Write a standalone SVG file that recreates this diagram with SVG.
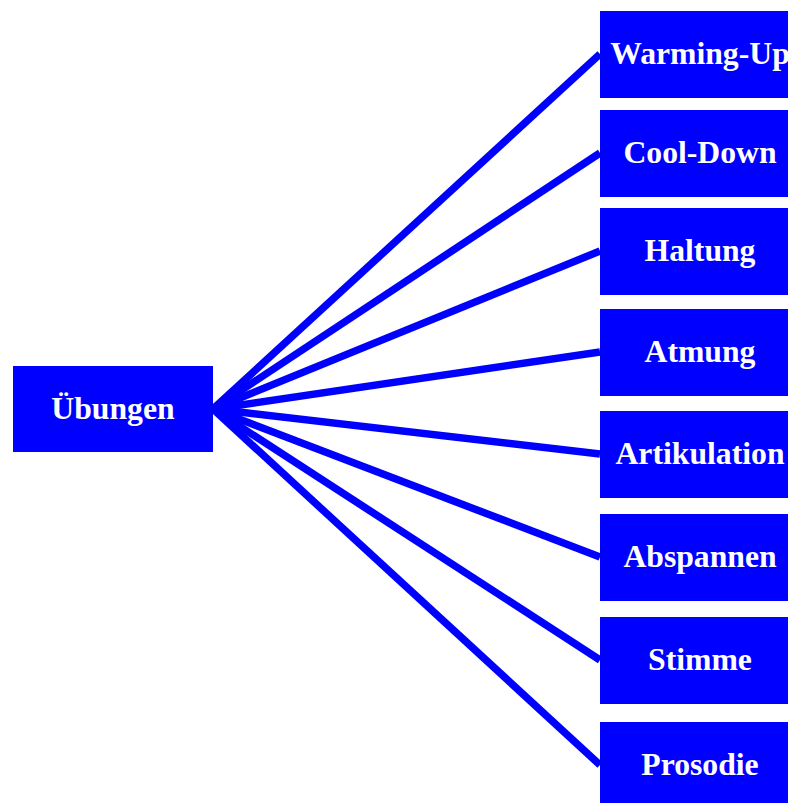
<svg xmlns="http://www.w3.org/2000/svg" width="788" height="803" viewBox="0 0 788 803">
<style>
.box{fill:#0000ff}
.lbl{fill:#ffffff;font-family:"Liberation Serif","Times New Roman",serif;font-weight:bold;font-size:31.7px;text-anchor:middle}
.edge{stroke:#0000ff;stroke-width:7.5;fill:none}
</style>
<rect width="788" height="803" fill="#ffffff"/>
<g id="connectors">
<line class="edge" x1="213" y1="409" x2="600" y2="54"/>
<line class="edge" x1="213" y1="409" x2="600" y2="153"/>
<line class="edge" x1="213" y1="409" x2="600" y2="251"/>
<line class="edge" x1="213" y1="409" x2="600" y2="352"/>
<line class="edge" x1="213" y1="409" x2="600" y2="454"/>
<line class="edge" x1="213" y1="409" x2="600" y2="557"/>
<line class="edge" x1="213" y1="409" x2="600" y2="660"/>
<line class="edge" x1="213" y1="409" x2="600" y2="765"/>
</g>
<g id="uebungen"><rect class="box" x="13" y="366" width="200" height="86"/><text class="lbl" x="113" y="419">Übungen</text></g>
<g id="warming-up"><rect class="box" x="600" y="11" width="200" height="87"/><text class="lbl" x="700" y="64">Warming-Up</text></g>
<g id="cool-down"><rect class="box" x="600" y="110" width="200" height="87"/><text class="lbl" x="700" y="163">Cool-Down</text></g>
<g id="haltung"><rect class="box" x="600" y="208" width="200" height="87"/><text class="lbl" x="700" y="261">Haltung</text></g>
<g id="atmung"><rect class="box" x="600" y="309" width="200" height="87"/><text class="lbl" x="700" y="362">Atmung</text></g>
<g id="artikulation"><rect class="box" x="600" y="411" width="200" height="87"/><text class="lbl" x="700" y="464">Artikulation</text></g>
<g id="abspannen"><rect class="box" x="600" y="514" width="200" height="87"/><text class="lbl" x="700" y="567">Abspannen</text></g>
<g id="stimme"><rect class="box" x="600" y="617" width="200" height="87"/><text class="lbl" x="700" y="670">Stimme</text></g>
<g id="prosodie"><rect class="box" x="600" y="722" width="200" height="87"/><text class="lbl" x="700" y="775">Prosodie</text></g>
</svg>
